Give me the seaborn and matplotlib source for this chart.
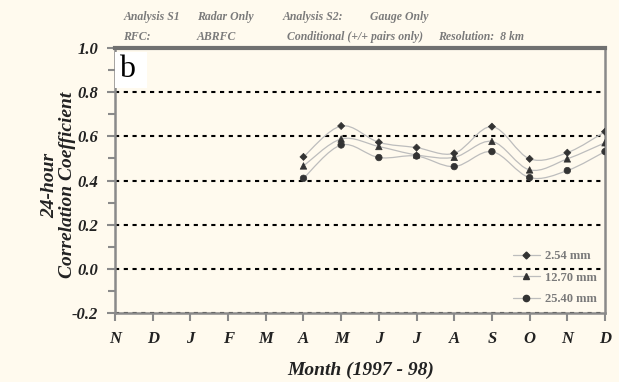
import matplotlib
matplotlib.use("Agg")
import matplotlib.pyplot as plt
from matplotlib.path import Path
from matplotlib.patches import PathPatch
from matplotlib.lines import Line2D
from matplotlib.ticker import MultipleLocator
import numpy as np
import pandas as pd
import seaborn as sns

# month axis Nov 1997 .. Dec 1998
MONTHS = ["N", "D", "J", "F", "M", "A", "M", "J", "J", "A", "S", "O", "N", "D"]
DATA_MONTH_IDX = [5, 6, 7, 8, 9, 10, 11, 12, 13]  # Apr .. Dec 1998

THRESHOLDS = ["2.54 mm", "12.70 mm", "25.40 mm"]
CORR_254 = [0.507, 0.647, 0.573, 0.549, 0.523, 0.644, 0.498, 0.526, 0.621]
CORR_1270 = [0.466, 0.588, 0.554, 0.516, 0.505, 0.577, 0.448, 0.498, 0.571]
CORR_2540 = [0.410, 0.561, 0.504, 0.511, 0.463, 0.531, 0.413, 0.445, 0.531]

BG = "#FFFAEE"
SPINE = "#8A8A8A"
TXT = "#222222"
GREY_TXT = "#7A7A7A"
LINE_C = "#BDBDBD"
MARK_C = "#333333"
MARKERS = {"2.54 mm": "D", "12.70 mm": "^", "25.40 mm": "o"}
MSIZES = {"2.54 mm": 13, "12.70 mm": 22, "25.40 mm": 22}

df = pd.DataFrame({
    "month": DATA_MONTH_IDX * 3,
    "corr": CORR_254 + CORR_1270 + CORR_2540,
    "threshold": [t for t in THRESHOLDS for _ in DATA_MONTH_IDX],
})

sns.set_style("white", {"axes.facecolor": BG, "figure.facecolor": BG})
plt.rcParams["font.family"] = ["Liberation Serif", "DejaVu Serif"]

fig = plt.figure(figsize=(6.19, 3.82), dpi=100)
ax = fig.add_axes([0.1858, 0.1806, 0.7916, 0.6937])


def smooth_path(xs, ys):
    """Catmull-Rom style bezier through the points (like a smoothed spreadsheet line)."""
    pts = np.column_stack([xs, ys]).astype(float)
    ext = np.vstack([pts[0], pts, pts[-1]])
    verts = [tuple(pts[0])]
    codes = [Path.MOVETO]
    for i in range(1, len(ext) - 2):
        p0, p1, p2, p3 = ext[i - 1], ext[i], ext[i + 1], ext[i + 2]
        c1 = p1 + (p2 - p0) / 6.0
        c2 = p2 - (p3 - p1) / 6.0
        verts += [tuple(c1), tuple(c2), tuple(p2)]
        codes += [Path.CURVE4] * 3
    return Path(verts, codes)


for thr in THRESHOLDS:
    sub = df[df["threshold"] == thr]
    ax.add_patch(PathPatch(smooth_path(sub["month"], sub["corr"]), facecolor="none",
                           edgecolor=LINE_C, lw=0.9, zorder=2))

sns.scatterplot(data=df, x="month", y="corr", style="threshold", markers=MARKERS,
                size="threshold", sizes=MSIZES, color=MARK_C, edgecolor=MARK_C,
                linewidth=0.5, legend=False, ax=ax, zorder=3)

ax.set_xlim(0, len(MONTHS) - 1)
ax.set_ylim(-0.2, 1.0)
ax.set_xticks(range(len(MONTHS)))
ax.set_xticklabels(MONTHS)
ax.yaxis.set_major_locator(MultipleLocator(0.2))
ax.yaxis.set_minor_locator(MultipleLocator(0.1))
ax.set_yticklabels([f"{v:.1f}" for v in ax.get_yticks()])
ax.set_xlabel("")
ax.set_ylabel("")

for lab in ax.get_xticklabels() + ax.get_yticklabels():
    lab.set_fontweight("bold")
    lab.set_fontstyle("italic")
    lab.set_fontsize(12)
    lab.set_color(TXT)

ax.tick_params(axis="both", which="major", direction="out", length=6, width=1.5,
               color=SPINE, pad=6, left=True, bottom=True)
ax.tick_params(axis="y", which="minor", direction="out", length=5, width=1.5,
               color=SPINE, left=True)
ax.tick_params(axis="x", pad=7)

ax.grid(axis="y", which="major", color="black", linestyle=(0, (2, 2.2)), lw=1.5)
ax.set_axisbelow(True)

for side in ["left", "bottom", "right"]:
    ax.spines[side].set_color(SPINE)
    ax.spines[side].set_linewidth(1.8)
ax.spines["top"].set_color("#707070")
ax.spines["top"].set_linewidth(3)

# panel letter
ax.text(0.008, 0.972, "b ", transform=ax.transAxes, fontsize=23, va="top", ha="left",
        color="black", family="Liberation Serif",
        bbox=dict(facecolor="white", edgecolor="none", boxstyle="square,pad=0.12"), zorder=5)

# legend
handles = [Line2D([], [], color=LINE_C, lw=0.9, marker=MARKERS[t], markersize=3.5 if t == "2.54 mm" else 4.5,
                  markerfacecolor=MARK_C, markeredgecolor=MARK_C) for t in THRESHOLDS]
leg = ax.legend(handles, THRESHOLDS, loc="lower right", frameon=False, handlelength=2.2,
                handletextpad=0.4, labelspacing=0.75, borderaxespad=0.25,
                prop={"family": "Liberation Serif", "weight": "bold", "size": 9},
                bbox_to_anchor=(1.0, 0.0))
for t in leg.get_texts():
    t.set_color(GREY_TXT)

# axis titles
fig.text(0.095, 0.515, "24-hour\nCorrelation Coefficient", rotation=90, ha="center", va="center",
         multialignment="center", fontsize=14, fontweight="bold", fontstyle="italic",
         color=TXT, linespacing=1.1)
fig.text(0.582, 0.03, "Month (1997 - 98)", ha="center", va="center", fontsize=14,
         fontweight="bold", fontstyle="italic", color=TXT)

# header info
hdr = dict(fontsize=8.5, fontweight="bold", fontstyle="italic", color=GREY_TXT, va="center")
fig.text(0.199, 0.955, "Analysis S1", **hdr)
fig.text(0.318, 0.955, "Radar Only", **hdr)
fig.text(0.457, 0.955, "Analysis S2:", **hdr)
fig.text(0.598, 0.955, "Gauge Only", **hdr)
fig.text(0.199, 0.903, "RFC:", **hdr)
fig.text(0.318, 0.903, "ABRFC", **hdr)
fig.text(0.463, 0.903, "Conditional (+/+ pairs only)", **hdr)
fig.text(0.708, 0.903, "Resolution:  8 km", **hdr)

fig.savefig("out.png", dpi=100, facecolor=BG)
